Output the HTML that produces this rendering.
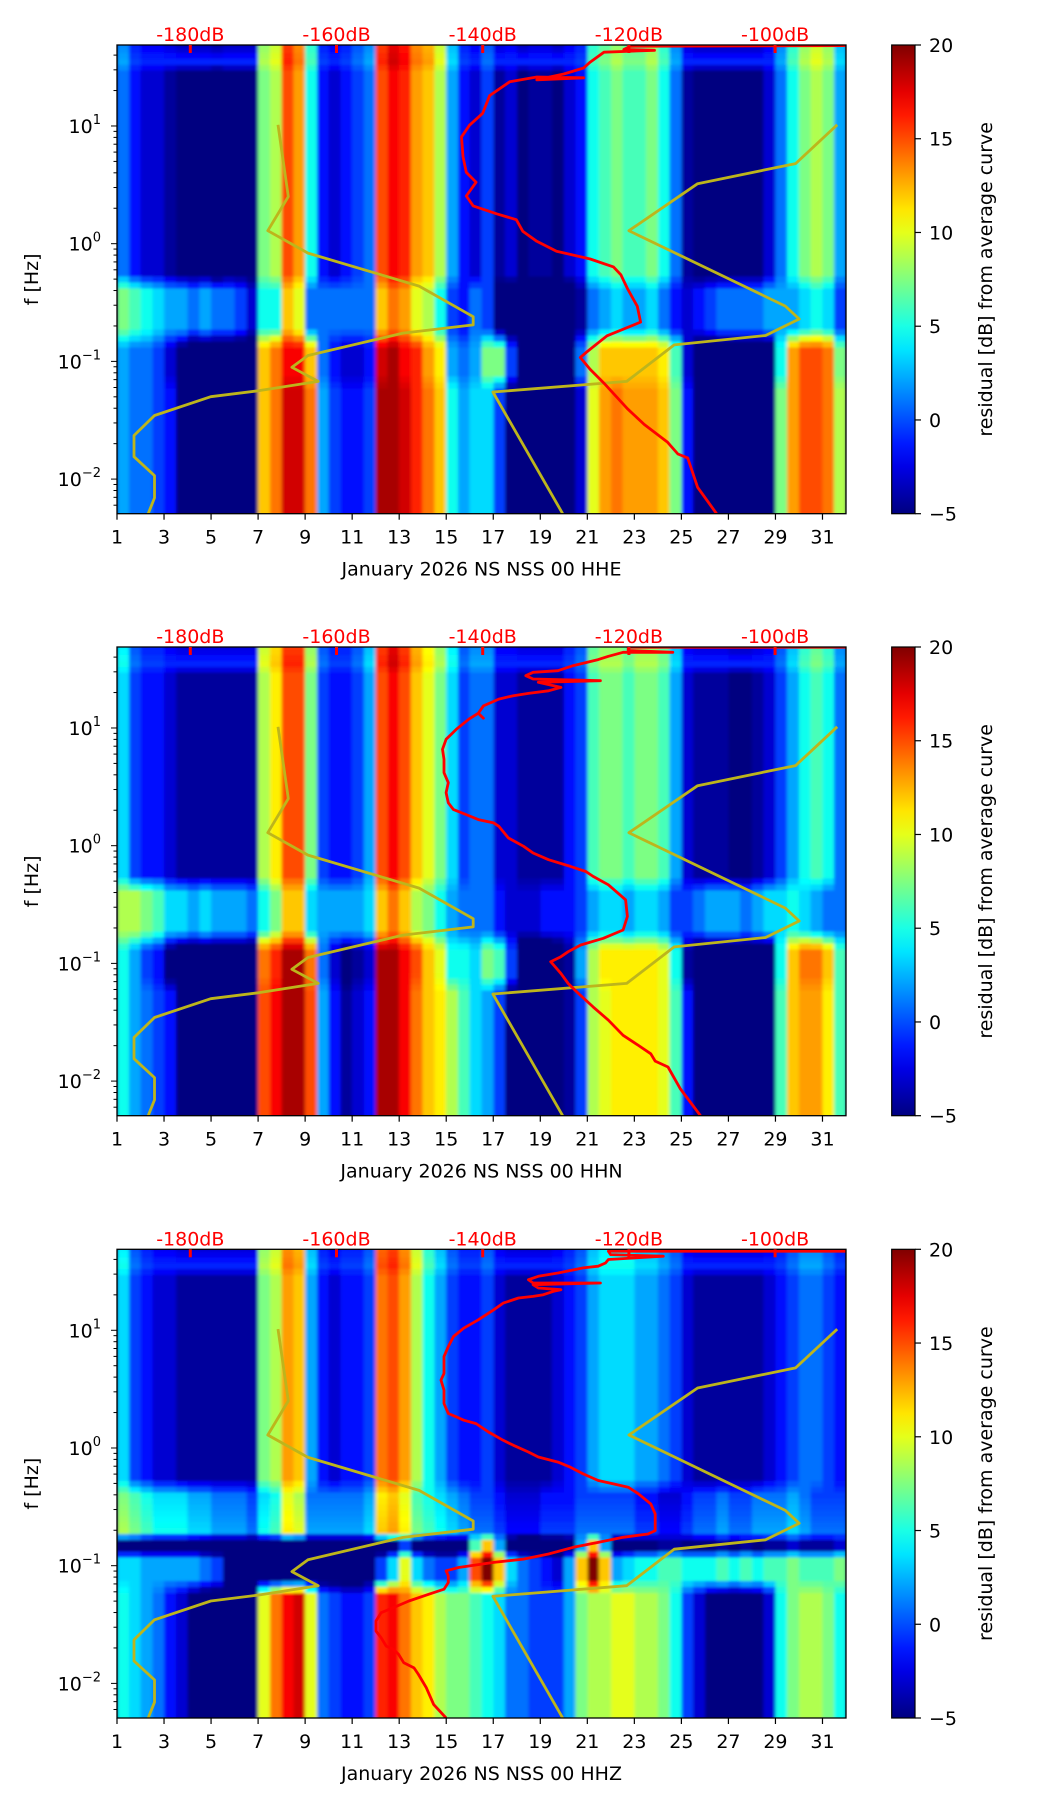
<!DOCTYPE html>
<html><head><meta charset="utf-8"><title>Spectrogram residuals</title>
<style>
html,body{margin:0;padding:0;background:#fff;}
svg{display:block;font-family:"DejaVu Sans","Liberation Sans",sans-serif;}
</style></head>
<body>
<svg id="fig" xmlns="http://www.w3.org/2000/svg" width="1052" height="1806" viewBox="0 0 1052 1806">
<rect x="0" y="0" width="1052" height="1806" fill="#fff"/>
<defs>
<filter id="soft" x="-2%" y="-2%" width="104%" height="104%"><feGaussianBlur stdDeviation="1.6 1.4"/></filter>
</defs>
</svg>
<script>
// ---------- axis data ----------
const dayTicks = [1,3,5,7,9,11,13,15,17,19,21,23,25,27,29,31];
const dbTicks = [-180,-160,-140,-120,-100];
const freqDecades = [1,0,-1,-2];
const cbarTicks = [20,15,10,5,0,-5];
const panelLabels = ["January 2026 NS NSS 00 HHE","January 2026 NS NSS 00 HHN","January 2026 NS NSS 00 HHZ"];

// Peterson low / high noise models (dB vs log10 f)
const nlnmDb = [-168.0,-166.6,-169.4,-163.9,-148.7,-141.3,-141.3,-150.9,-163.9,-166.1,-162.5,-170.7,-177.2,-184.9,-187.7,-187.7,-184.9,-184.9,-185.8];
const nlnmLogF = [1.01,0.40,0.11,-0.08,-0.36,-0.62,-0.69,-0.76,-0.95,-1.05,-1.17,-1.25,-1.30,-1.46,-1.63,-1.81,-1.97,-2.16,-2.30];
const nhnmDb = [-91.5,-97.2,-110.6,-120.0,-98.6,-96.7,-101.3,-113.8,-120.3,-138.6,-129.0];
const nhnmLogF = [1.01,0.68,0.51,0.11,-0.53,-0.64,-0.78,-0.86,-1.17,-1.26,-2.30];

// Red curves (station PSD) per channel
const redEDb = [-108.0,-110.6,-111.95,-113.3,-114.7,-117.9,-120.2,-123.4,-125.3,-126.65,-125.7,-124.35,-123.0,-118.4,-118.85,-120.2,-121.1,-122.1,-125.3,-129.9,-132.6,-134.5,-135.4,-138.1,-141.3,-142.25,-140.9,-142.25,-142.7,-142.9,-141.8,-140.0,-139.05,-136.3,-132.6,-126.2,-132.6,-128.9,-126.2,-125.3,-123.4,-116.5,-120.7,-119.8,-90.4];
const redELogF = [-2.294,-2.07,-1.82,-1.787,-1.687,-1.536,-1.402,-1.185,-1.068,-0.967,-0.917,-0.85,-0.783,-0.666,-0.532,-0.381,-0.264,-0.197,-0.13,-0.064,0.02,0.104,0.204,0.254,0.321,0.405,0.522,0.606,0.74,0.907,1.007,1.108,1.258,1.375,1.416,1.409,1.392,1.442,1.493,1.543,1.627,1.643,1.65,1.677,1.683];
const redNDb = [-110.2,-112.95,-114.65,-116.4,-117.0,-118.7,-120.8,-122.8,-124.9,-126.9,-128.3,-129.3,-130.3,-130.7,-129.3,-128.3,-126.6,-123.5,-120.8,-120.2,-120.45,-121.5,-122.8,-124.9,-125.9,-128.0,-131.0,-133.1,-134.4,-136.5,-137.8,-138.5,-140.6,-142.3,-144.0,-144.7,-145.0,-144.7,-145.3,-145.3,-145.5,-145.0,-144.3,-143.6,-141.9,-140.6,-139.9,-140.6,-139.9,-137.8,-135.8,-133.75,-131.0,-129.3,-132.4,-123.9,-133.1,-134.1,-133.1,-129.7,-127.6,-124.2,-122.8,-120.8,-114.0,-120.1,-120.1,-90.1];
const redNLogF = [-2.294,-2.066,-1.88,-1.83,-1.768,-1.697,-1.611,-1.483,-1.37,-1.256,-1.171,-1.085,-1.014,-0.986,-0.943,-0.901,-0.844,-0.787,-0.716,-0.602,-0.46,-0.403,-0.332,-0.261,-0.219,-0.176,-0.119,-0.062,-0.005,0.066,0.165,0.194,0.222,0.265,0.307,0.364,0.45,0.535,0.62,0.734,0.819,0.904,0.947,0.99,1.075,1.126,1.083,1.126,1.188,1.245,1.274,1.294,1.316,1.345,1.388,1.402,1.416,1.444,1.473,1.487,1.53,1.581,1.609,1.643,1.643,1.658,1.686,1.686];
const redZDb = [-145.0,-146.7,-147.7,-148.8,-149.4,-150.8,-151.5,-152.2,-153.2,-153.9,-154.6,-154.6,-153.9,-152.2,-150.1,-147.4,-145.3,-144.7,-144.7,-145.0,-143.3,-138.5,-134.4,-131.0,-127.6,-124.2,-120.8,-117.4,-116.4,-116.4,-117.0,-118.7,-120.1,-122.2,-124.2,-126.25,-128.0,-129.7,-132.4,-133.75,-135.8,-137.2,-139.2,-140.9,-142.6,-143.6,-144.7,-145.3,-145.3,-145.7,-145.3,-145.3,-144.7,-144.0,-142.6,-140.6,-138.5,-137.2,-135.1,-133.1,-131.7,-130.3,-129.3,-132.4,-133.1,-123.9,-133.1,-133.75,-132.4,-129.7,-126.25,-124.2,-123.2,-122.8,-115.3,-122.5,-122.8,-90.1];
const redZLogF = [-2.294,-2.18,-2.038,-1.924,-1.868,-1.825,-1.754,-1.711,-1.683,-1.612,-1.555,-1.47,-1.399,-1.356,-1.3,-1.243,-1.2,-1.143,-1.086,-1.043,-1.015,-0.972,-0.944,-0.901,-0.844,-0.802,-0.759,-0.731,-0.702,-0.56,-0.475,-0.389,-0.333,-0.304,-0.276,-0.22,-0.163,-0.12,-0.077,-0.034,0.023,0.065,0.136,0.207,0.236,0.264,0.293,0.378,0.492,0.577,0.634,0.776,0.861,0.947,1.018,1.089,1.174,1.231,1.274,1.288,1.302,1.331,1.345,1.359,1.387,1.402,1.402,1.43,1.459,1.487,1.53,1.544,1.572,1.601,1.629,1.643,1.672,1.672];

// Residual levels (dB) per half-day, days 1..32, per frequency band
const hfE = [3,1, 0,0, -1,-2, -2,-2, -3,-2, -2,-2, 8,9, 15,13, 6,1, 0,1, 2,3, 15,17, 16,13, 12,9, 4,1, 0,2, -1,0, -2,-1, -1,-2, 0,1, 6,7, 8,7, 7,8, 6,3, -1,-2, -2,-2, -2,-2, -2,0, 3,6, 8,9, 8,4];
const micE = [8,7, 6,5, 4,4, 3,4, 3,3, 2,0, 6,6, 8,6, 2,3, 3,3, 3,3, 8,9, 9,8, 7,5, 2,1, 3,2, -2,-3, -4,-4, -4,-4, -3,-1, 3,4, 4,3, 3,3, 2,1, 0,1, 2,3, 3,3, 3,4, 4,4, 4,3, 3,2];
const bandE = [4,3, 3,2, 0,-2, -4,-4, -4,-4, -4,-4, 12,14, 17,17, 12,3, 1,0, 0,1, 18,19, 17,16, 13,11, 4,3, 4,8, 8,2, -4,-4, -4,-4, -3,3, 9,12, 12,12, 12,12, 11,7, 0,-3, -4,-4, -4,-4, -4,-4, 6,13, 15,15, 14,8];
const loE = [4,3, 3,2, 1,-2, -4,-4, -4,-4, -4,-3, 12,14, 18,18, 14,4, 2,1, 1,2, 19,19, 18,16, 14,12, 6,4, 5,5, 2,-2, -4,-4, -4,-4, -3,0, 10,13, 14,13, 13,13, 12,8, 1,-3, -4,-4, -4,-4, -4,-2, 8,13, 15,15, 14,9];

const hfN = [5,2, 1,1, 0,-1, -1,-1, -1,-1, -1,-1, 9,11, 15,15, 8,2, 1,1, 2,4, 15,17, 15,12, 10,8, 5,2, 3,3, 0,0, -1,-1, -1,-1, 1,2, 7,8, 8,7, 8,8, 7,4, 0,-1, -1,-1, -2,-2, -1,0, 2,4, 6,7, 6,3];
const micN = [9,9, 8,7, 5,5, 4,5, 4,4, 4,3, 6,6, 8,6, 4,4, 4,4, 4,5, 9,10, 10,9, 8,6, 4,3, 3,3, 1,0, 0,0, 1,1, 1,2, 3,4, 4,3, 3,2, 2,2, 2,3, 4,4, 4,3, 4,5, 5,6, 5,4, 3,3];
const bandN = [6,4, 2,1, -2,-4, -4,-4, -4,-4, -4,-4, 14,16, 19,19, 14,3, 0,-2, -1,0, 19,19, 17,15, 12,10, 6,6, 5,8, 7,2, -4,-4, -4,-3, -1,4, 9,11, 11,11, 11,11, 10,6, -1,-4, -4,-4, -4,-4, -4,-4, 6,12, 14,14, 12,7];
const loN = [6,4, 3,2, 1,-2, -4,-4, -4,-4, -4,-3, 15,17, 19,19, 15,4, 1,-1, 0,1, 19,19, 17,14, 12,11, 9,7, 5,4, 2,-2, -4,-4, -4,-3, -1,2, 9,10, 11,11, 11,11, 10,7, 1,-3, -4,-4, -4,-4, -4,-4, 7,12, 13,13, 11,7];

const hfZ = [5,2, 1,0, 0,-1, -1,-1, -1,-1, -1,-1, 8,9, 13,12, 4,1, 0,1, 1,2, 14,15, 13,9, 6,4, 2,1, 1,2, 0,-1, -1,-1, -1,0, 1,2, 4,5, 5,5, 4,4, 3,2, 0,-1, -1,-1, -1,-1, -1,0, 1,2, 3,3, 2,1];
const micZ = [8,7, 6,5, 5,5, 4,4, 3,3, 3,2, 4,4, 5,4, 3,3, 3,3, 3,4, 7,8, 8,7, 6,5, 4,3, 2,2, 1,0, 0,0, 1,1, 1,2, 2,2, 1,1, 0,0, -1,0, 1,2, 2,3, 2,2, 3,3, 3,4, 3,2, 2,2];
const bandZ = [5,5, 4,4, 4,4, 4,3, 2,-2, -3,-3, -3,-3, -3,-3, -3,-3, -3,-3, -3,-2, 2,5, 10,5, 3,2, 2,4, 15,20, 12,5, 3,2, 1,0, 4,12, 20,12, 4,5, 6,6, 7,7, 6,6, 6,7, 6,7, 6,7, 7,8, 7,7, 7,8];
const loZ = [6,5, 4,3, 1,0, -2,-3, -3,-3, -3,-2, 10,14, 17,18, 10,3, 2,1, 1,2, 16,17, 14,12, 11,9, 8,8, 7,6, 5,3, 3,2, 2,2, 4,8, 9,9, 10,10, 9,9, 8,6, 2,0, -2,-3, -3,-3, -2,0, 6,8, 9,9, 8,6];
// quiet gap depth between microseism and 0.1 Hz band (HHZ only), relative to band level
const gapDepth = [null, null, 8];

// ---------- layout / scales ----------
const NS = "http://www.w3.org/2000/svg";
const svg = document.getElementById('fig');
const X0 = 117, X1 = 846, DAY0 = 1, DAY1 = 32;
const PH = 468.7, LTOP = 1.688, LBOT = -2.294;
const panelTops = [45, 647, 1249.3];
const CB0 = 891.7, CB1 = 915;
const VMIN = -5, VMAX = 20;
function xDay(d){ return X0 + (d-DAY0)/(DAY1-DAY0)*(X1-X0); }
function yLog(top, L){ return top + (LTOP-L)/(LTOP-LBOT)*PH; }
function xDb(db){ return 190.3 + (db+180)*7.31; }
function yCb(top, v){ return top + (VMAX-v)/(VMAX-VMIN)*PH; }
function clamp(a){ return Math.max(0, Math.min(1, a)); }
function jet(v){
  const t = clamp((v-VMIN)/(VMAX-VMIN));
  const r = clamp(1.5-Math.abs(4*t-3)), g = clamp(1.5-Math.abs(4*t-2)), b = clamp(1.5-Math.abs(4*t-1));
  return 'rgb('+Math.round(r*255)+','+Math.round(g*255)+','+Math.round(b*255)+')';
}
function mk(tag, attrs, parent){
  const e = document.createElementNS(NS, tag);
  for (const k in attrs) e.setAttribute(k, attrs[k]);
  (parent||svg).appendChild(e);
  return e;
}
function tone(v){ return v < 10 ? v - (10-v)*0.3 : v; }
function cellVal(L, hf, mic, band, lo, depth){
  const m = Math.max(mic, hf-3);
  let aL, aV;
  if (depth === null){
    aL = [1.8, 1.55, 1.45, 1.35, -0.25, -0.4, -0.72, -0.88, -1.1, -1.25, -2.5];
    aV = [hf, Math.max(hf+1,1.5), hf, hf, hf, m, m, band, band, lo, lo];
  } else {
    const gap = Math.max(-5, band - depth);
    aL = [1.8, 1.55, 1.45, 1.35, -0.25, -0.4, -0.72, -0.79, -0.86, -0.93, -1.1, -1.25, -2.5];
    aV = [hf, Math.max(hf+1,1.5), hf, hf, hf, m, m+1, gap, gap, band, band, lo, lo];
  }
  for (let i=0;i<aL.length-1;i++){
    if (L <= aL[i] && L >= aL[i+1]){
      const f = (aL[i]-L)/(aL[i]-aL[i+1]);
      return tone(aV[i] + f*(aV[i+1]-aV[i]));
    }
  }
  return tone(lo);
}
function polyPts(top, dbs, lfs){
  return dbs.map((d,i)=> xDb(d).toFixed(1)+','+yLog(top, lfs[i]).toFixed(1)).join(' ');
}

// colorbar gradient
const defs = svg.querySelector('defs');
const grad = mk('linearGradient', {id:'jetgrad', x1:'0', y1:'0', x2:'0', y2:'1'}, defs);
for (let i=0;i<=20;i++){
  const v = VMAX - i*(VMAX-VMIN)/20;
  mk('stop', {offset:(i/20).toFixed(3), 'stop-color':jet(v)}, grad);
}

const heat = [[hfE,micE,bandE,loE],[hfN,micN,bandN,loN],[hfZ,micZ,bandZ,loZ]];
const reds = [[redEDb,redELogF],[redNDb,redNLogF],[redZDb,redZLogF]];

panelTops.forEach((top, p) => {
  const g = mk('g', {});
  
  
  const cid = 'clip'+p;
  const cp = mk('clipPath', {id:cid}, defs);
  mk('rect', {x:X0, y:top, width:X1-X0, height:PH}, cp);

  const plot = mk('g', {'clip-path':'url(#'+cid+')'}, g);
  
  
  mk('rect', {x:X0, y:top, width:X1-X0, height:PH, fill:'#00007f'}, plot);
  const hm = mk('g', {filter:'url(#soft)', 'shape-rendering':'crispEdges'}, plot);
  
  
  const [hf, mic, band, lo] = heat[p];
  const step = 0.05;
  for (let i=0;i<hf.length;i++){
    const d0 = DAY0 + i*0.5;
    const x = xDay(d0), w = xDay(d0+0.5)-x;
    for (let L = -2.35; L <= 1.76; L += step){
      const y1 = yLog(top, L+step/2), y2 = yLog(top, L-step/2);
      const v = cellVal(L, hf[i], mic[i], band[i], lo[i], gapDepth[p]);
      const r = mk('rect', {x:x.toFixed(2), y:y1.toFixed(2), width:(w+0.6).toFixed(2), height:(y2-y1+0.6).toFixed(2), fill:jet(v)}, hm);
      
      
    }
  }
  // noise models
  const lo1 = mk('polyline', {points:polyPts(top, nlnmDb, nlnmLogF), fill:'none', stroke:'#bdb51c', 'stroke-width':2.8, 'stroke-linejoin':'round'}, plot);
  
  
  const hi1 = mk('polyline', {points:polyPts(top, nhnmDb, nhnmLogF), fill:'none', stroke:'#bdb51c', 'stroke-width':2.8, 'stroke-linejoin':'round'}, plot);
  
  
  const rc = mk('polyline', {points:polyPts(top, reds[p][0], reds[p][1]), fill:'none', stroke:'#ff0000', 'stroke-width':2.8, 'stroke-linejoin':'round'}, plot);
  
  

  // frame
  mk('rect', {x:X0, y:top, width:X1-X0, height:PH, fill:'none', stroke:'#000', 'stroke-width':1.3}, g);

  // top dB axis
  dbTicks.forEach(db => {
    const x = xDb(db);
    mk('line', {x1:x, y1:top, x2:x, y2:top+8, stroke:'#ff0000', 'stroke-width':3}, g);
    const t = mk('text', {x:x, y:top-4, 'text-anchor':'middle', 'font-size':19, fill:'#ff0000'}, g);
    t.textContent = db + 'dB';
    
    
  });

  // x ticks
  const bot = top + PH;
  dayTicks.forEach(d => {
    const x = xDay(d);
    mk('line', {x1:x, y1:bot, x2:x, y2:bot+6, stroke:'#000', 'stroke-width':1.2}, g);
    const t = mk('text', {x:x, y:bot+30, 'text-anchor':'middle', 'font-size':19, fill:'#000'}, g);
    t.textContent = d;
    
    
  });
  const xl = mk('text', {x:(X0+X1)/2, y:bot+62, 'text-anchor':'middle', 'font-size':19, fill:'#000'}, g);
  xl.textContent = panelLabels[p];
  
  

  // y ticks (log)
  for (let k=-3;k<=1;k++){
    for (let m=1;m<=9;m++){
      const L = k + Math.log10(m);
      if (L > LTOP || L < LBOT) continue;
      const y = yLog(top, L);
      mk('line', {x1:X0, y1:y, x2:X0-(m===1?6:3.5), y2:y, stroke:'#000', 'stroke-width':1}, g);
    }
  }
  freqDecades.forEach(k => {
    const y = yLog(top, k);
    const t = mk('text', {x:X0-16, y:y+7, 'text-anchor':'end', 'font-size':19, fill:'#000'}, g);
    
    
    const a = mk('tspan', {}, t); a.textContent = '10';
    const b = mk('tspan', {dy:-9, 'font-size':13}, t); b.textContent = (k<0?'\u2212':'') + Math.abs(k);
  });
  const yl = mk('text', {x:0, y:0, 'text-anchor':'middle', 'font-size':19, fill:'#000', transform:'translate(38,'+(top+PH/2)+') rotate(-90)'}, g);
  yl.textContent = 'f [Hz]';
  
  

  // colorbar
  const cb = mk('g', {}, g);
  
  
  mk('rect', {x:CB0, y:top, width:CB1-CB0, height:PH, fill:'url(#jetgrad)', stroke:'#000', 'stroke-width':1.2}, cb);
  cbarTicks.forEach(v => {
    const y = yCb(top, v);
    mk('line', {x1:CB1, y1:y, x2:CB1+6, y2:y, stroke:'#000', 'stroke-width':1.2}, cb);
    const t = mk('text', {x:CB1+14, y:y+7, 'font-size':19, fill:'#000'}, cb);
    t.textContent = v < 0 ? '\u2212' + Math.abs(v) : String(v);
    
    
  });
  const cl = mk('text', {x:0, y:0, 'text-anchor':'middle', 'font-size':19, fill:'#000', transform:'translate(992,'+(top+PH/2)+') rotate(-90)'}, cb);
  cl.textContent = 'residual [dB] from average curve';
  
  
});
</script>
</body></html>
